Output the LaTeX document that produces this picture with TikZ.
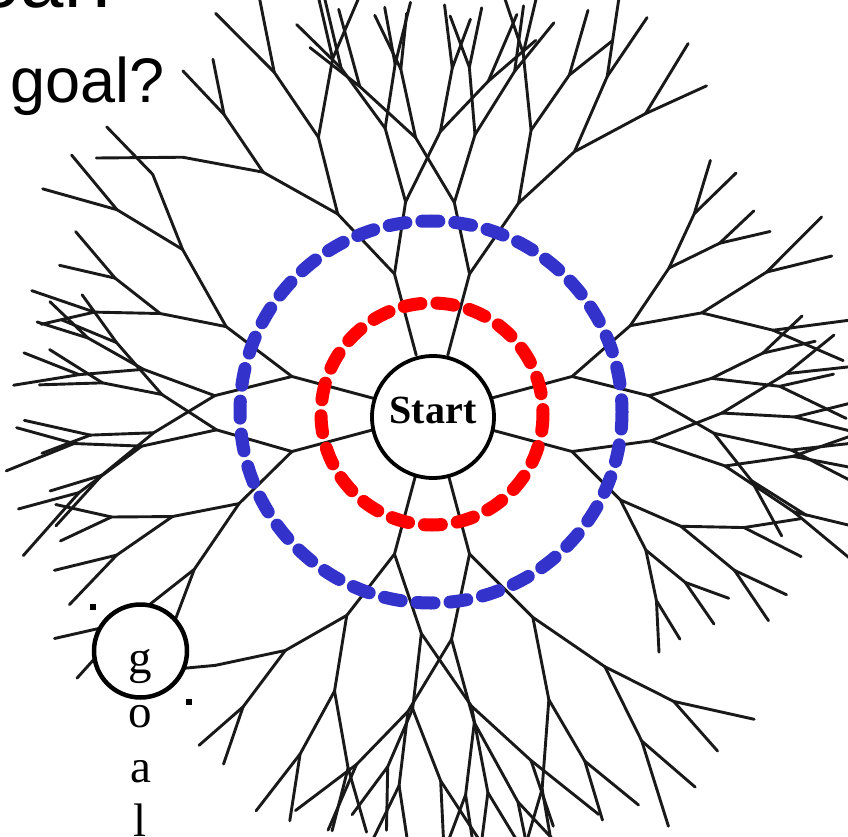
\documentclass[tikz,border=0pt]{standalone}
\usepackage{fontspec}
\setmainfont{Liberation Serif}
\newfontfamily\slidefont{Liberation Sans}
\definecolor{searchRed}{RGB}{255,0,0}
\definecolor{searchBlue}{RGB}{51,51,204}

\begin{document}
\begin{tikzpicture}[
  x=1pt, y=-1pt,
  twig/.style={line width=2.9pt, black!90, line cap=round},
  frontier/.style={line width=13pt, line cap=round, dash pattern=on 17pt off 16pt},
  slidetext/.style={font=\slidefont\fontsize{63}{70}\selectfont, inner sep=0pt},
  ringnode/.style={draw, circle, fill=white, inner sep=0pt},
  goalletter/.style={font=\fontsize{47}{54}\selectfont, inner sep=0pt, anchor=base},
]
\useasboundingbox (0,0) rectangle (848,837);
\clip (0,0) rectangle (848,837);

%% ── centre of the search (pixel units, y grows downward) ─
\def\cx{432}
\def\cy{414}

%% ── helper: draw one branch, then fork it in two ─────────
%% args: x, y, angle, length, depth
\newcommand{\branchout}[5]{
  \ifnum#5>0
  \begingroup
    \pgfmathsetmacro{\bx}{#1+#4*cos(#3)}
    \pgfmathsetmacro{\by}{#2+#4*sin(#3)}
    % no branch runs under the slide text or the goal letters
    \pgfmathtruncatemacro{\intext}{or(and(\bx<180,\by<125),and(and(\bx>100,\bx<178),\by>690))}
    \ifnum\intext=0
    \draw[twig] (#1,#2) -- (\bx,\by);
    % pull the fork back towards the outward direction
    \pgfmathsetmacro{\outang}{atan2(\by-\cy,\bx-\cx)}
    \pgfmathsetmacro{\forkdir}{#3+0.25*atan2(sin(\outang-#3),cos(\outang-#3))+12*(rnd-0.5)}
    % wide forks near the start, narrow ones at the rim
    \pgfmathsetmacro{\aL}{\forkdir+4+3.6*#5+9*rnd}
    \pgfmathsetmacro{\aR}{\forkdir-4-3.6*#5-9*rnd}
    \pgfmathsetmacro{\lL}{#4*(0.8+0.28*rnd)}
    \pgfmathsetmacro{\lR}{#4*(0.8+0.28*rnd)}
    \pgfmathtruncatemacro{\dd}{#5-1}
    \edef\next{\noexpand\branchout{\bx}{\by}{\aL}{\lL}{\dd}%
               \noexpand\branchout{\bx}{\by}{\aR}{\lR}{\dd}}%
    \next
    \fi
  \endgroup
  \fi
}

%% ── the search tree ──────────────────────────────────────
\pgfmathsetseed{5}
\foreach \a in {15,75,105,165,195,255,285,345}{
  \pgfmathsetmacro{\sx}{\cx+61*cos(\a)}
  \pgfmathsetmacro{\sy}{\cy+61*sin(\a)}
  \edef\next{\noexpand\branchout{\sx}{\sy}{\a}{84}{5}}
  \next
}

%% ── frontiers ────────────────────────────────────────────
\draw[frontier, searchBlue] (431,412) circle[radius=191];
\draw[frontier, searchRed]  (432,414) circle[radius=111];

%% ── start and goal ───────────────────────────────────────
\node[ringnode, line width=3.8pt, minimum size=122pt] (start) at (433,417) {};
\node[font=\bfseries\fontsize{40}{44}\selectfont, inner sep=0pt, anchor=base]
     (startlabel) at (433,423) {Start};

\node[ringnode, line width=4.5pt, minimum size=93pt] (goal) at (140.5,651) {};
\foreach \ch [count=\i from 0] in {g,o,a,l}
  \node[goalletter] (goal-\i) at (140.5,{673+54.5*\i}) {\ch};
\fill (90,604) rectangle (96,610);
\fill (186,699) rectangle (192,705);

%% ── slide text ───────────────────────────────────────────
\node[slidetext, font=\slidefont\fontsize{78}{80}\selectfont, anchor=base west]
     (prevline) at (-66,8) {goal?};
\node[slidetext, anchor=base west] (question) at (10,103) {goal?};

\end{tikzpicture}
\end{document}
